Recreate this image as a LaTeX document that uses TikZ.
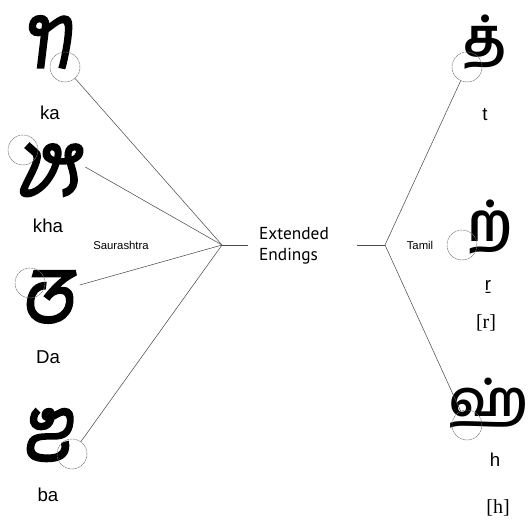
\documentclass[tikz,border=0pt]{standalone}
\usepackage{fontspec}
\setmainfont{Liberation Sans}
\newfontfamily\serifr{Liberation Serif}
\newfontfamily\myriadish{PT Sans}
\newfontfamily\tamilfont[Script=Tamil]{Hind Madurai}
\newfontfamily\saurfont[Script=Saurashtra,FakeBold=2.2,FakeSlant=0.12]{Noto Sans Saurashtra}
\usetikzlibrary{positioning,calc}

\begin{document}
\begin{tikzpicture}[
  x=0.75pt, y=-0.75pt,
  saur/.style={inner sep=0pt, font=\saurfont\fontsize{58}{58}\selectfont},
  tam/.style={inner sep=0pt, font=\tamilfont\bfseries\fontsize{40}{40}\selectfont},
  roman/.style={inner sep=0pt, font=\fontsize{14}{14}\selectfont},
  ipa/.style={inner sep=0pt, font=\serifr\fontsize{15}{15}\selectfont},
  group/.style={inner sep=0pt, font=\fontsize{8.5}{8.5}\selectfont},
  ring/.style={draw=black!55, dash pattern=on 2pt off 0.5pt,
    line width=0.35pt, circle, minimum size=22.5pt, inner sep=0pt},
  link/.style={draw=black!70, line width=0.4pt},
]
\useasboundingbox (0,0) rectangle (532,519);

% Saurashtra side
\node[saur] (ka)  at (47,42)  {ꢒ};
\node[saur] (kha) at (49,170) {ꢓ};
\node[saur] (dda) at (48,297) {ꢞ};
\node[saur] (ba)  at (47,435) {ꢨ};
\node[roman] (kalbl)  at (50,113) {ka};
\node[roman] (khalbl) at (48,226) {kha};
\node[roman] (ddalbl) at (48,357) {Da};
\node[roman] (balbl)  at (48,495) {ba};
\node[ring] (karing)  at (65,67)  {};
\node[ring] (kharing) at (23,150) {};
\node[ring] (ddaring) at (30,283) {};
\node[ring] (baring)  at (72,454) {};
\node[group] (saurlbl) at (121,245) {Saurashtra};

% centre
\coordinate (lhub) at (222,245);
\coordinate (rhub) at (385,245);
\node[align=left, inner sep=0pt, font=\myriadish\fontsize{13}{16}\selectfont]
  (ext) at (294,246) {Extended\\Endings};

% Tamil side
\node[tam] (ta) at (485,42)  {த்};
\node[tam] (ra) at (490,227) {ற்};
\node[tam, font=\tamilfont\bfseries\fontsize{37}{37}\selectfont]
  (ha) at (489,403) {ஹ்};
\node[roman] (talbl) at (485,115) {t};
\node[roman] (ralbl) at (488,287) {ṟ};
\node[ipa]   (raipa) at (486,323) {[r]};
\node[roman] (halbl) at (495,460) {h};
\node[ipa]   (haipa) at (498,508) {[h]};
\node[ring] (taring) at (467,67)  {};
\node[ring] (raring) at (462,245) {};
\node[ring] (haring) at (467,425) {};
\node[group] (tamlbl) at (420,245) {Tamil};

% links
\draw[link] (karing) -- (lhub);
\draw[link] ($(kha.east)+(4,-3)$) coordinate (khaend) -- (lhub);
\draw[link] ($(dda.east)+(6,-12)$) coordinate (ddaend) -- (lhub);
\draw[link] (baring) -- (lhub);
\draw[link] (lhub) -- ++(26,0);
\draw[link] (rhub) -- ++(-28,0);
\draw[link] (rhub) -- (taring);
\draw[link] (rhub) -- (haring);
\end{tikzpicture}
\end{document}
